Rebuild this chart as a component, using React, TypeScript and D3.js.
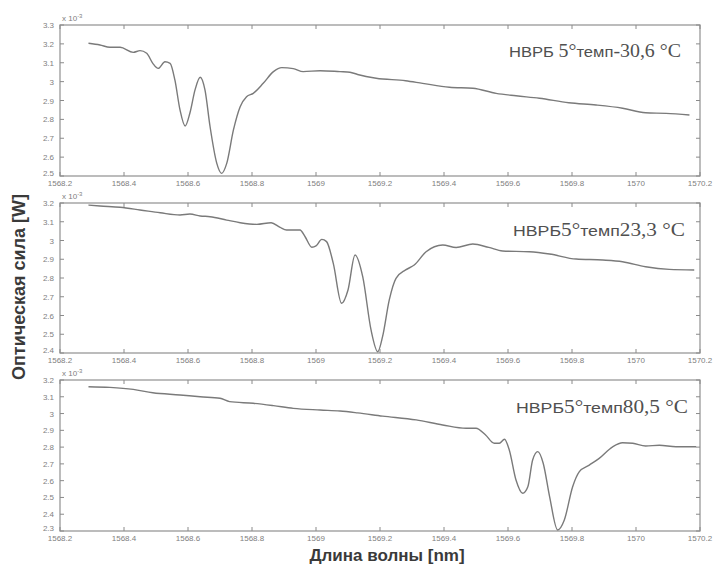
import React from 'react'
import * as d3 from 'd3'

// wavelength axis ticks (nm)
const xTicks = [1568.2, 1568.4, 1568.6, 1568.8, 1569, 1569.2, 1569.4, 1569.6, 1569.8, 1570, 1570.2]

// panel 1: -30,6 °C
const wl1 = [1568.289, 1568.325, 1568.356, 1568.388, 1568.429, 1568.45, 1568.471, 1568.49, 1568.507, 1568.528, 1568.544, 1568.559, 1568.575, 1568.591, 1568.606, 1568.622, 1568.638, 1568.653, 1568.669, 1568.69, 1568.705, 1568.721, 1568.742, 1568.763, 1568.783, 1568.804, 1568.835, 1568.867, 1568.893, 1568.929, 1568.96, 1569.013, 1569.075, 1569.106, 1569.13, 1569.188, 1569.28, 1569.333, 1569.417, 1569.49, 1569.563, 1569.625, 1569.698, 1569.79, 1569.875, 1569.958, 1570.03, 1570.094, 1570.167]
const pw1 = [3.203, 3.194, 3.182, 3.182, 3.155, 3.164, 3.15, 3.097, 3.07, 3.105, 3.097, 3.009, 2.85, 2.765, 2.834, 2.956, 3.023, 2.956, 2.761, 2.567, 2.514, 2.567, 2.744, 2.867, 2.92, 2.938, 2.991, 3.053, 3.074, 3.069, 3.053, 3.058, 3.053, 3.05, 3.038, 3.018, 3.005, 2.991, 2.97, 2.965, 2.938, 2.925, 2.912, 2.888, 2.876, 2.859, 2.835, 2.832, 2.823]
const yTicks1 = [2.5, 2.6, 2.7, 2.8, 2.9, 3, 3.1, 3.2, 3.3]

// panel 2: 23,3 °C
const wl2 = [1568.289, 1568.325, 1568.388, 1568.45, 1568.513, 1568.575, 1568.606, 1568.638, 1568.669, 1568.721, 1568.763, 1568.815, 1568.86, 1568.888, 1568.908, 1568.95, 1568.966, 1568.987, 1569.0, 1569.018, 1569.033, 1569.054, 1569.08, 1569.1, 1569.122, 1569.146, 1569.172, 1569.193, 1569.208, 1569.229, 1569.25, 1569.28, 1569.307, 1569.344, 1569.396, 1569.438, 1569.49, 1569.54, 1569.583, 1569.667, 1569.73, 1569.813, 1569.896, 1569.958, 1570.03, 1570.104, 1570.182]
const pw2 = [3.189, 3.184, 3.177, 3.163, 3.148, 3.136, 3.141, 3.131, 3.127, 3.109, 3.095, 3.086, 3.095, 3.07, 3.056, 3.056, 3.02, 2.964, 2.971, 3.006, 2.994, 2.878, 2.665, 2.736, 2.923, 2.807, 2.523, 2.407, 2.487, 2.683, 2.798, 2.843, 2.869, 2.94, 2.976, 2.963, 2.981, 2.963, 2.944, 2.94, 2.928, 2.901, 2.896, 2.887, 2.86, 2.846, 2.843]
const yTicks2 = [2.4, 2.5, 2.6, 2.7, 2.8, 2.9, 3, 3.1, 3.2]

// panel 3: 80,5 °C
const wl3 = [1568.289, 1568.356, 1568.429, 1568.49, 1568.575, 1568.638, 1568.7, 1568.73, 1568.804, 1568.867, 1568.929, 1569.013, 1569.075, 1569.13, 1569.208, 1569.313, 1569.396, 1569.469, 1569.5, 1569.53, 1569.557, 1569.573, 1569.589, 1569.604, 1569.625, 1569.646, 1569.662, 1569.677, 1569.693, 1569.71, 1569.73, 1569.755, 1569.776, 1569.802, 1569.823, 1569.854, 1569.885, 1569.927, 1569.958, 1569.99, 1570.03, 1570.073, 1570.125, 1570.188]
const pw3 = [3.16, 3.156, 3.144, 3.124, 3.111, 3.1, 3.091, 3.071, 3.061, 3.047, 3.031, 3.021, 3.015, 3.004, 2.985, 2.962, 2.932, 2.912, 2.912, 2.872, 2.823, 2.823, 2.847, 2.783, 2.604, 2.525, 2.564, 2.723, 2.773, 2.704, 2.505, 2.306, 2.366, 2.564, 2.654, 2.693, 2.733, 2.802, 2.826, 2.823, 2.807, 2.811, 2.802, 2.802]
const yTicks3 = [2.3, 2.4, 2.5, 2.6, 2.7, 2.8, 2.9, 3, 3.1, 3.2]

const temps = ['-30,6 °C', '23,3 °C', '80,5 °C']

const left = 60
const right = 700
const panels = [
  { wl: wl1, pw: pw1, yt: yTicks1, top: 25, bottom: 176, label: temps[0], lx: 509, ly: 57, gap: true },
  { wl: wl2, pw: pw2, yt: yTicks2, top: 203, bottom: 353, label: temps[1], lx: 513, ly: 236, gap: false },
  { wl: wl3, pw: pw3, yt: yTicks3, top: 380, bottom: 531, label: temps[2], lx: 516, ly: 413, gap: false },
]

const fmt = (v: number) => d3.format('')(+v.toFixed(1))

function Panel({ p }: { p: typeof panels[0] }) {
  const x = d3.scaleLinear().domain([1568.2, 1570.2]).range([left, right])
  const y = d3.scaleLinear().domain([p.yt[0], p.yt[p.yt.length - 1]]).range([p.bottom, p.top])
  const line = d3.line<number>()
    .x((_, i) => x(p.wl[i]))
    .y(d => y(d))
    .curve(d3.curveMonotoneX)
  const grey = '#8a8a8a'
  return (
    <g>
      <rect x={left} y={p.top} width={right - left} height={p.bottom - p.top} fill="white" stroke="#999" strokeWidth={1.3} />
      {xTicks.map(t => (
        <g key={'x' + t}>
          <line x1={x(t)} x2={x(t)} y1={p.bottom} y2={p.bottom - 4} stroke={grey} />
          <line x1={x(t)} x2={x(t)} y1={p.top} y2={p.top + 4} stroke={grey} />
          <text x={x(t)} y={p.bottom + 10} fontSize={8} fill="#808080" textAnchor="middle" fontFamily="Liberation Sans, Arial, sans-serif">{fmt(t)}</text>
        </g>
      ))}
      {p.yt.map((t, i) => (
        <g key={'y' + t}>
          <line x1={left} x2={left + 4} y1={y(t)} y2={y(t)} stroke={grey} />
          <line x1={right} x2={right - 4} y1={y(t)} y2={y(t)} stroke={grey} />
          <text x={left - 6} y={y(t) + (i === 0 ? 0 : 3)} fontSize={8} fill="#808080" textAnchor="end" fontFamily="Liberation Sans, Arial, sans-serif">{fmt(t)}</text>
        </g>
      ))}
      <text x={left + 2} y={p.top - 4} fontSize={8} fill="#808080" fontFamily="Liberation Sans, Arial, sans-serif">
        x 10<tspan dy={-3} fontSize={6}>-3</tspan>
      </text>
      <path d={line(p.pw) ?? ''} fill="none" stroke="#7a7a7a" strokeWidth={1.4} />
      <text x={p.lx} y={p.ly} fill="#505050" textLength={172} lengthAdjust="spacingAndGlyphs">
        <tspan fontFamily="Liberation Sans, Arial, sans-serif" fontSize={15}>{p.gap ? 'НВРБ ' : 'НВРБ'}</tspan>
        <tspan fontFamily="Liberation Serif, Times New Roman, serif" fontSize={18}>5°</tspan>
        <tspan fontFamily="Liberation Sans, Arial, sans-serif" fontSize={15}>темп</tspan>
        <tspan fontFamily="Liberation Serif, Times New Roman, serif" fontSize={18}>{p.label}</tspan>
      </text>
    </g>
  )
}

export default function App() {
  return (
    <svg width={716} height={565} style={{ position: 'absolute', left: 0, top: 0, background: 'white' }}>
      {panels.map((p, i) => <Panel key={i} p={p} />)}
      <text transform="translate(25,287) rotate(-90)" textAnchor="middle" fontSize={18} fontWeight="bold" fill="#3a3a3a" fontFamily="Liberation Sans, Arial, sans-serif">
        Оптическая сила [W]
      </text>
      <text x={387} y={561} textAnchor="middle" fontSize={17} fontWeight="bold" fill="#3a3a3a" fontFamily="Liberation Sans, Arial, sans-serif">
        Длина волны [nm]
      </text>
    </svg>
  )
}
